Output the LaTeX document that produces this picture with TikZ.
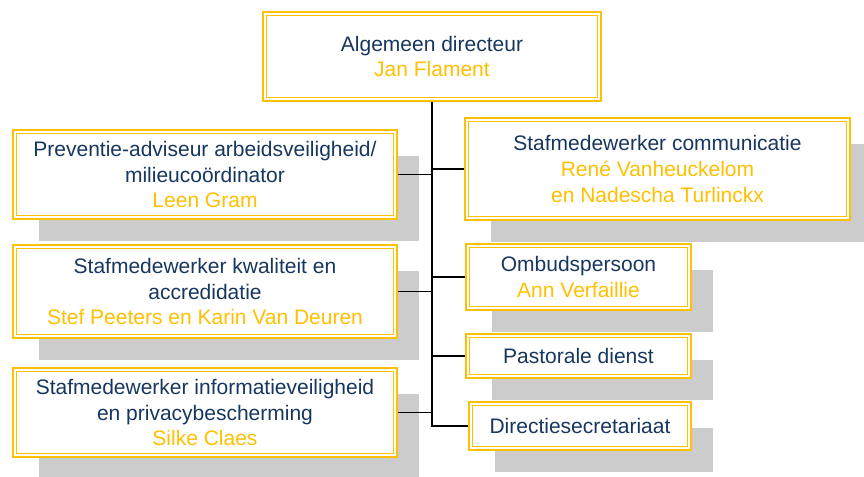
\documentclass[tikz,border=0pt]{standalone}
\usepackage{fontspec}
\setmainfont{Liberation Sans}
\usepackage{tikz}
\usetikzlibrary{positioning,shadows}
\usepackage{xcolor}
\definecolor{orggold}{RGB}{255,192,0}
\definecolor{orgnavy}{RGB}{23,55,94}
\definecolor{orgshadow}{RGB}{204,204,204}
\tikzstyle{post} = [rectangle, draw=orggold, line width=0.8pt, double=white, double distance=1.0pt, fill=white, inner sep=0pt, outer sep=1.3pt, align=center, text=orgnavy, font=\fontsize{10.5}{12.8}\selectfont]
\tikzstyle{shadowed} = [general shadow={fill=orgshadow, shadow xshift=12pt, shadow yshift=-12pt}]
\tikzstyle{spine} = [line width=1pt, black]
\tikzstyle{link} = [line width=0.75pt, black]
\newcommand{\naam}[1]{\textcolor{orggold}{#1}}

\begin{document}
\begin{tikzpicture}[x=0.5pt, y=-0.5pt]
\useasboundingbox (0,0) rectangle (864,477);
\clip (0,0) rectangle (864,477);

% Director
\node[post, minimum width=167.4pt, minimum height=42.9pt] (dir) at (432,56.5) {Algemeen directeur\\ \naam{Jan Flament}};

% Left column
\node[post, shadowed, minimum width=190.4pt, minimum height=42.9pt] (prev) at (205,174.5) {Preventie-adviseur arbeidsveiligheid/\\ milieucoördinator\\ \naam{Leen Gram}};
\node[post, shadowed, minimum width=190.4pt, minimum height=44.9pt] (kwal) at (205,291.5) {Stafmedewerker kwaliteit en\\ accredidatie\\ \naam{Stef Peeters en Karin Van Deuren}};
\node[post, shadowed, minimum width=190.4pt, minimum height=42.9pt] (info) at (205,412.5) {Stafmedewerker informatieveiligheid\\ en privacybescherming\\ \naam{Silke Claes}};

% Right column
\node[post, shadowed, minimum width=190.9pt, minimum height=49.4pt] (comm) at (657.5,169) {Stafmedewerker communicatie\\ \naam{René Vanheuckelom}\\ \naam{en Nadescha Turlinckx}};
\node[post, shadowed, minimum width=110.9pt, minimum height=31.4pt] (ombud) at (578.5,277) {Ombudspersoon\\ \naam{Ann Verfaillie}};
\node[post, shadowed, minimum width=110.9pt, minimum height=20.4pt] (past) at (578.5,356) {Pastorale dienst};
\node[post, shadowed, minimum width=109.4pt, minimum height=22.4pt] (sec) at (580,426) {Directiesecretariaat};

% Connectors
\draw[spine] (dir.south) -- (dir.south |- sec.west) -- (sec.west);
\foreach \n in {prev,kwal,info}
  \draw[link] (\n.east) -- (\n.east -| dir.south);
\foreach \n in {comm,ombud,past}
  \draw[link] (\n.west) -- (\n.west -| dir.south);
\end{tikzpicture}
\end{document}
